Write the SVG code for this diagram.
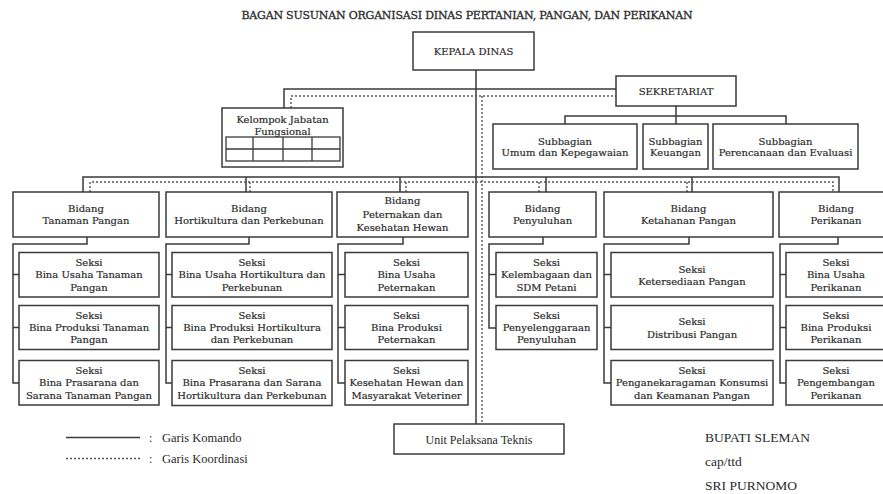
<svg xmlns="http://www.w3.org/2000/svg" width="883" height="494" viewBox="0 0 883 494">
<style>
.b{fill:#fff;stroke:#3a3a3a;stroke-width:1.5}
.t{font-family:"DejaVu Serif",serif;font-size:10px;fill:#2a2a2a;stroke:#2a2a2a;stroke-width:0.2;text-anchor:middle}
.s{fill:none;stroke:#3a3a3a;stroke-width:1.5}
.d{fill:none;stroke:#555;stroke-width:1.4;stroke-dasharray:2 2}
.l{font-family:"Liberation Serif",serif;fill:#2a2a2a}
</style>
<rect width="883" height="494" fill="#fff"/>
<text x="467" y="19" class="t" style="font-size:11px;stroke-width:0.3" textLength="451">BAGAN SUSUNAN ORGANISASI DINAS PERTANIAN, PANGAN, DAN PERIKANAN</text>

<g id="connectors">
<path class="s" d="M476,70V424"/>
<path class="s" d="M284,108V89H616"/>
<path class="s" d="M676,106V116M565,124V116H786V124M676,116V124"/>
<path class="s" d="M83,192V177H839V192M246,177V192M400,177V192M546,177V192M692,177V192"/>
<path class="d" d="M482,96V424"/>
<path class="d" d="M291,108V96H616"/>
<path class="d" d="M90,192V182H833V192M250,182V192M406,182V192M539,182V192M687,182V192"/>
<path class="s" d="M87,237V244H13V383H19M13,274.5H19M13,327.5H19"/>
<path class="s" d="M249,237V244H166V383H172M166,274.5H172M166,327.5H172"/>
<path class="s" d="M403,237V244H338V383H345M338,274.5H345M338,327.5H345"/>
<path class="s" d="M543,237V244H489V328H496M489,274.5H496"/>
<path class="s" d="M689,237V244H604V383H611M604,274.5H611M604,327.5H611"/>
<path class="s" d="M838,237V244H780V383H786M780,274.5H786M780,327.5H786"/>
<path class="s" d="M66,437.5H140"/>
<path class="d" d="M66,458.5H140"/>
</g>

<g id="kepala"><rect class="b" x="413" y="32" width="121" height="38"/><text class="t" x="473.5" y="55">KEPALA DINAS</text></g>
<g id="sekretariat"><rect class="b" x="616" y="76" width="120" height="30"/><text class="t" x="676" y="95">SEKRETARIAT</text></g>
<g id="kjf"><rect class="b" x="222" y="108" width="121" height="59"/>
<text class="t" x="282.5" y="122.5">Kelompok Jabatan</text><text class="t" x="282.5" y="134.5">Fungsional</text>
<rect class="b" x="226" y="137" width="114" height="24" style="stroke-width:1.3"/>
<path class="s" style="stroke-width:1.3" d="M226,149H340M253,137V161M283,137V161M312,137V161"/></g>

<g id="sub-umum"><rect class="b" x="493" y="124" width="144" height="45"/><text class="t" x="565" y="144.5">Subbagian</text><text class="t" x="565" y="156">Umum dan Kepegawaian</text></g>
<g id="sub-keu"><rect class="b" x="643" y="124" width="65" height="45"/><text class="t" x="675.5" y="144.5">Subbagian</text><text class="t" x="675.5" y="156">Keuangan</text></g>
<g id="sub-ren"><rect class="b" x="713" y="124" width="145" height="45"/><text class="t" x="785.5" y="144.5">Subbagian</text><text class="t" x="785.5" y="156">Perencanaan dan Evaluasi</text></g>

<g id="bid-tanaman"><rect class="b" x="13" y="192" width="146" height="45"/><text class="t" x="86" y="212">Bidang</text><text class="t" x="86" y="224">Tanaman Pangan</text></g>
<g id="bid-horti"><rect class="b" x="166" y="192" width="166" height="45"/><text class="t" x="249" y="212">Bidang</text><text class="t" x="249" y="224">Hortikultura dan Perkebunan</text></g>
<g id="bid-peternakan"><rect class="b" x="337" y="192" width="131" height="45"/><text class="t" x="402.5" y="204">Bidang</text><text class="t" x="402.5" y="217.5">Peternakan dan</text><text class="t" x="402.5" y="231">Kesehatan Hewan</text></g>
<g id="bid-penyuluhan"><rect class="b" x="489" y="192" width="107" height="45"/><text class="t" x="542.5" y="212">Bidang</text><text class="t" x="542.5" y="224">Penyuluhan</text></g>
<g id="bid-ketahanan"><rect class="b" x="604" y="192" width="169" height="45"/><text class="t" x="688.5" y="212">Bidang</text><text class="t" x="688.5" y="224">Ketahanan Pangan</text></g>
<g id="bid-perikanan"><rect class="b" x="779" y="192" width="114" height="45"/><text class="t" x="836" y="212">Bidang</text><text class="t" x="836" y="224">Perikanan</text></g>

<g id="tp1"><rect class="b" x="19" y="252.5" width="140" height="44.5"/><text class="t" x="89" y="266">Seksi</text><text class="t" x="89" y="278">Bina Usaha Tanaman</text><text class="t" x="89" y="290.5">Pangan</text></g>
<g id="tp2"><rect class="b" x="19" y="305.5" width="140" height="44"/><text class="t" x="89" y="318.5">Seksi</text><text class="t" x="89" y="331">Bina Produksi Tanaman</text><text class="t" x="89" y="343">Pangan</text></g>
<g id="tp3"><rect class="b" x="19" y="360.5" width="140" height="44.5"/><text class="t" x="89" y="374">Seksi</text><text class="t" x="89" y="386">Bina Prasarana dan</text><text class="t" x="89" y="398.5">Sarana Tanaman Pangan</text></g>

<g id="hk1"><rect class="b" x="172" y="252.5" width="160" height="44.5"/><text class="t" x="252" y="266">Seksi</text><text class="t" x="252" y="278">Bina Usaha Hortikultura dan</text><text class="t" x="252" y="290.5">Perkebunan</text></g>
<g id="hk2"><rect class="b" x="172" y="305.5" width="160" height="44"/><text class="t" x="252" y="318.5">Seksi</text><text class="t" x="252" y="331">Bina Produksi Hortikultura</text><text class="t" x="252" y="343">dan Perkebunan</text></g>
<g id="hk3"><rect class="b" x="172" y="360.5" width="160" height="45"/><text class="t" x="252" y="374">Seksi</text><text class="t" x="252" y="386">Bina Prasarana dan Sarana</text><text class="t" x="252" y="398.5">Hortikultura dan Perkebunan</text></g>

<g id="pt1"><rect class="b" x="345" y="252.5" width="123" height="44.5"/><text class="t" x="406.5" y="266">Seksi</text><text class="t" x="406.5" y="278">Bina Usaha</text><text class="t" x="406.5" y="290.5">Peternakan</text></g>
<g id="pt2"><rect class="b" x="345" y="305.5" width="123" height="44"/><text class="t" x="406.5" y="318.5">Seksi</text><text class="t" x="406.5" y="331">Bina Produksi</text><text class="t" x="406.5" y="343">Peternakan</text></g>
<g id="pt3"><rect class="b" x="345" y="360.5" width="123" height="44.5"/><text class="t" x="406.5" y="374">Seksi</text><text class="t" x="406.5" y="386">Kesehatan Hewan dan</text><text class="t" x="406.5" y="398.5">Masyarakat Veteriner</text></g>

<g id="py1"><rect class="b" x="496" y="252.5" width="101" height="44.5"/><text class="t" x="546.5" y="266">Seksi</text><text class="t" x="546.5" y="278">Kelembagaan dan</text><text class="t" x="546.5" y="290.5">SDM Petani</text></g>
<g id="py2"><rect class="b" x="496" y="305.5" width="101" height="44"/><text class="t" x="546.5" y="318.5">Seksi</text><text class="t" x="546.5" y="331">Penyelenggaraan</text><text class="t" x="546.5" y="343">Penyuluhan</text></g>

<g id="kp1"><rect class="b" x="611" y="252.5" width="162" height="44.5"/><text class="t" x="692" y="272.5">Seksi</text><text class="t" x="692" y="285">Ketersediaan Pangan</text></g>
<g id="kp2"><rect class="b" x="611" y="305.5" width="162" height="44"/><text class="t" x="692" y="325">Seksi</text><text class="t" x="692" y="337.5">Distribusi Pangan</text></g>
<g id="kp3"><rect class="b" x="611" y="360.5" width="162" height="44.5"/><text class="t" x="692" y="374">Seksi</text><text class="t" x="692" y="386">Penganekaragaman Konsumsi</text><text class="t" x="692" y="398.5">dan Keamanan Pangan</text></g>

<g id="pk1"><rect class="b" x="786" y="252.5" width="100" height="44.5"/><text class="t" x="836" y="266">Seksi</text><text class="t" x="836" y="278">Bina Usaha</text><text class="t" x="836" y="290.5">Perikanan</text></g>
<g id="pk2"><rect class="b" x="786" y="305.5" width="100" height="44"/><text class="t" x="836" y="318.5">Seksi</text><text class="t" x="836" y="331">Bina Produksi</text><text class="t" x="836" y="343">Perikanan</text></g>
<g id="pk3"><rect class="b" x="786" y="360.5" width="100" height="44.5"/><text class="t" x="836" y="374">Seksi</text><text class="t" x="836" y="386">Pengembangan</text><text class="t" x="836" y="398.5">Perikanan</text></g>

<g id="upt"><rect class="b" x="394" y="424" width="170" height="30"/><text class="l" x="479" y="443.5" style="font-size:12px;text-anchor:middle">Unit Pelaksana Teknis</text></g>

<g id="legend">
<text class="l" x="149" y="441.5" style="font-size:12px">:</text>
<text class="l" x="162" y="441.5" style="font-size:12.5px">Garis Komando</text>
<text class="l" x="149" y="462.5" style="font-size:12px">:</text>
<text class="l" x="162" y="462.5" style="font-size:12.5px">Garis Koordinasi</text>
</g>
<g id="signature">
<text class="l" x="705" y="442" style="font-size:13.5px">BUPATI SLEMAN</text>
<text class="l" x="705" y="466" style="font-size:13.5px">cap/ttd</text>
<text class="l" x="705" y="489.5" style="font-size:13.5px">SRI PURNOMO</text>
</g>
</svg>
